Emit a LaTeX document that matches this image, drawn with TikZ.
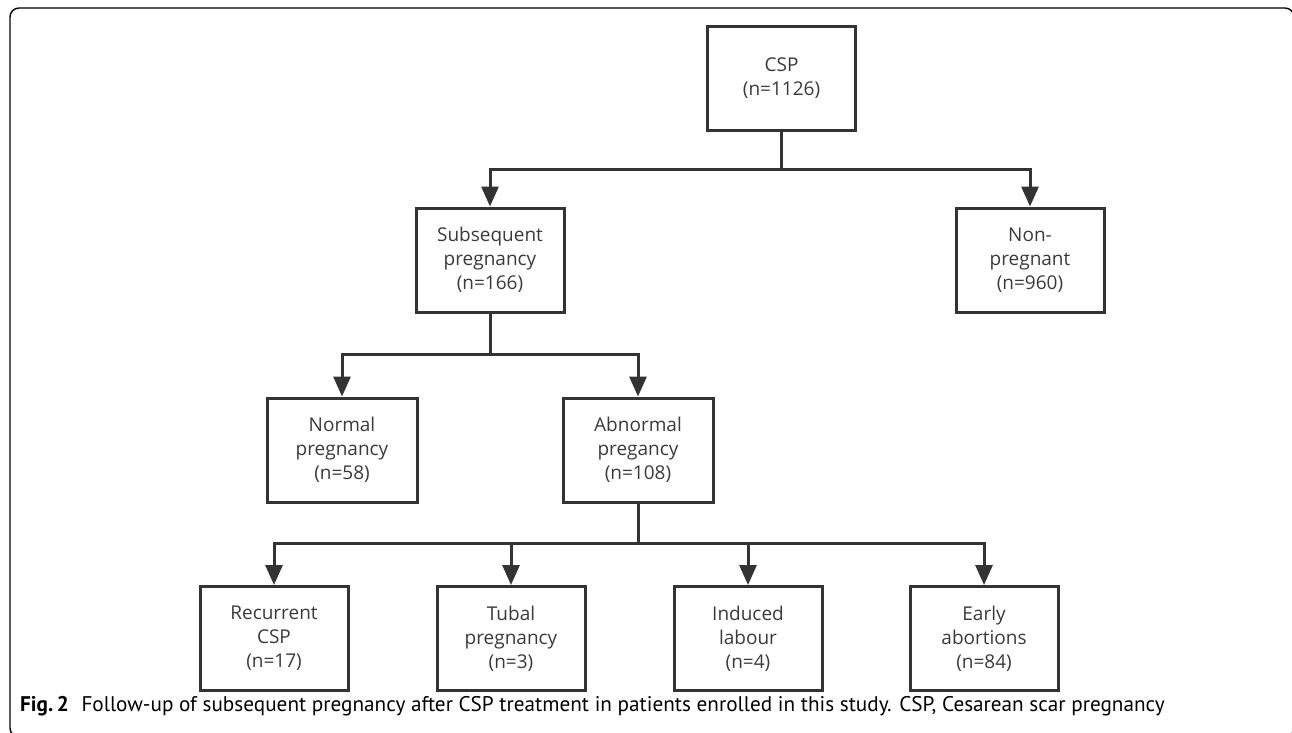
\documentclass[tikz,border=0pt]{standalone}
\usepackage{fontspec}
\setmainfont{Open Sans}
\newfontfamily\capfont{PT Sans}
\usetikzlibrary{arrows.meta}
\definecolor{ln}{HTML}{333333}
\definecolor{tx}{HTML}{3A3A3A}
\tikzset{
  box/.style={draw=ln, line width=3pt, minimum width=148pt, minimum height=104pt, inner sep=0pt, align=center, text=tx, font=\fontsize{19}{24}\selectfont},
  conn/.style={draw=ln, line width=3pt},
  arr/.style={conn, -{Triangle[length=20pt, width=17pt]}},
}
\begin{document}
\begin{tikzpicture}[x=1pt, y=-1pt]
\useasboundingbox (0,0) rectangle (1292,732);
\draw[line width=1.4pt, rounded corners=9pt] (10,8) rectangle (1294,737);
\node[box] (csp) at (781.5,78) {CSP\\(n=1126)};
\node[box] (sub) at (490,260) {Subsequent\\pregnancy\\(n=166)};
\node[box] (non) at (1030,260) {Non-\\pregnant\\(n=960)};
\node[box, minimum width=150pt] (nor) at (342,450) {Normal\\pregnancy\\(n=58)};
\node[box, minimum width=150pt] (abn) at (638,450) {Abnormal\\pregancy\\(n=108)};
\node[box] (rec) at (274,638.5) {Recurrent\\CSP\\(n=17)};
\node[box] (tub) at (511,638.5) {Tubal\\pregnancy\\(n=3)};
\node[box] (ind) at (748,638.5) {Induced\\labour\\(n=4)};
\node[box] (ear) at (984,638.5) {Early\\abortions\\(n=84)};
\coordinate (b1) at (0,169);
\coordinate (b2) at (0,354);
\coordinate (b3) at (0,543);
\draw[conn] (csp.south) -- (csp.south |- b1);
\draw[arr] (csp.south |- b1) -| (sub.north);
\draw[arr] (csp.south |- b1) -| (non.north);
\draw[conn] (sub.south) -- (sub.south |- b2);
\draw[arr] (sub.south |- b2) -| (nor.north);
\draw[arr] (sub.south |- b2) -| (abn.north);
\draw[conn] (abn.south) -- (abn.south |- b3);
\draw[arr] (abn.south |- b3) -| (rec.north);
\draw[arr] (abn.south |- b3) -| (tub.north);
\draw[arr] (abn.south |- b3) -| (ind.north);
\draw[arr] (abn.south |- b3) -| (ear.north);
\node[anchor=west, inner sep=0pt, font=\capfont\fontsize{21.2}{24}\selectfont, text=black] (cap) at (20,706) {\textbf{Fig.\,2}\hspace{0.6em}Follow-up of subsequent pregnancy after CSP treatment in patients enrolled in this study. CSP, Cesarean scar pregnancy};
\end{tikzpicture}
\end{document}
